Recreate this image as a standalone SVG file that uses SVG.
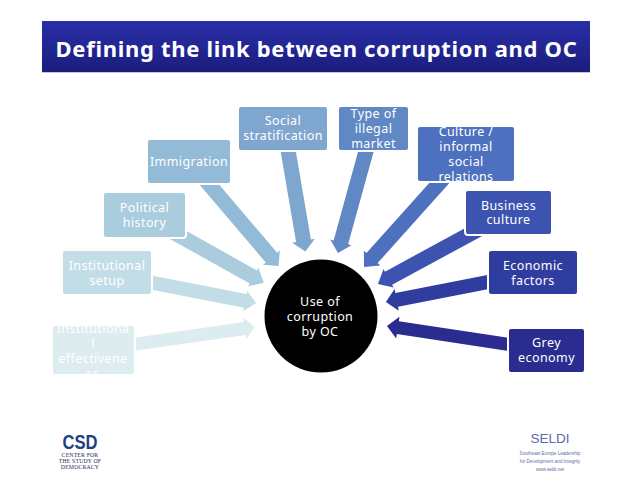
<svg xmlns="http://www.w3.org/2000/svg" width="638" height="479" viewBox="0 0 638 479">
<style>
.t{font-family:"Noto Sans","DejaVu Sans",sans-serif;font-size:12.5px;letter-spacing:.42px;fill:#fff;text-anchor:middle}
.b{stroke:#fff;stroke-width:2}
.serif{font-family:"Liberation Serif",serif;font-size:5.800px;letter-spacing:.15px;fill:#1f2a55;text-anchor:middle}
.seldi{font-family:"Liberation Sans",sans-serif;font-size:4.600px;fill:#5f6ea8;text-anchor:middle}
</style>
<defs>
<linearGradient id="bar" x1="0" y1="0" x2="0" y2="1"><stop offset="0" stop-color="#2b2fa8"/><stop offset="1" stop-color="#1a1d7c"/></linearGradient>
</defs>
<rect width="638" height="479" fill="#fff"/>
<g id="title">
<rect x="42" y="22" width="548" height="51" fill="#c2c4d8"/>
<rect x="42" y="21" width="548" height="51" fill="url(#bar)"/>
<text x="316.500" y="57" font-family="'Noto Sans','DejaVu Sans',sans-serif" font-size="22" font-weight="700" letter-spacing=".7" fill="#fff" text-anchor="middle">Defining the link between corruption and OC</text>
</g>
<g id="connectors">
<polygon fill="#dcecef" transform="translate(136 344) rotate(-8.1)" points="-8,-6.5 110,-6.500 110,-10.500 120,0 110,10.500 110,6.500 -8,6.500"/>
<polygon fill="#c3dde6" transform="translate(153 283) rotate(11)" points="-8,-7 94,-7 94,-10.500 105,0 94,10.500 94,7 -8,7"/>
<polygon fill="#a9cddd" transform="translate(180 236) rotate(29.2)" points="-12,-7.500 84,-7.500 84,-10.500 96,0 84,10.500 84,7.500 -12,7.500"/>
<polygon fill="#93bad6" transform="translate(210.500 186) rotate(49.6)" points="-12,-7.500 94,-7.500 94,-11 105,0 94,11 94,7.500 -12,7.500"/>
<polygon fill="#7fa6cf" transform="translate(288.500 153) rotate(80.3)" points="-8,-7.500 89,-7.500 89,-11.500 100,0 89,11.500 89,7.500 -8,7.500"/>
<polygon fill="#5f88c5" transform="translate(365.500 153) rotate(105.4)" points="-8,-7.500 92.700,-7.500 92.700,-11 103.700,0 92.700,11 92.700,7.500 -8,7.500"/>
<polygon fill="#4d70bf" transform="translate(438.500 184) rotate(131.9)" points="-12,-7.500 99.500,-7.500 99.500,-11 111.500,0 99.500,11 99.500,7.500 -12,7.500"/>
<polygon fill="#3c54b0" transform="translate(470 234) rotate(151.5)" points="-14,-7.500 92.700,-7.500 92.700,-10.500 104.700,0 92.700,10.500 92.700,7.500 -14,7.500"/>
<polygon fill="#2f3d9f" transform="translate(486 282.500) rotate(169)" points="-8,-7 91,-7 91,-11 102,0 91,11 91,7 -8,7"/>
<polygon fill="#2a2d8f" transform="translate(506 344) rotate(188.6)" points="-8,-6.500 109.400,-6.500 109.400,-11 120.400,0 109.400,11 109.400,6.500 -8,6.500"/>
</g>
<g id="n-effectiveness"><rect class="b" x="52" y="325" width="83" height="50" rx="3" fill="#dcecef"/>
<text class="t" x="93" y="332.500">Institutiona</text><text class="t" x="93" y="347.500">l</text><text class="t" x="93" y="362.500">effectivene</text><text class="t" x="93" y="377.500">ss</text></g>
<g id="n-setup"><rect class="b" x="62" y="250" width="90" height="45" rx="3" fill="#c3dde6"/>
<text class="t" x="107" y="269.500">Institutional</text><text class="t" x="107" y="284.500">setup</text></g>
<g id="n-political"><rect class="b" x="103" y="192" width="83" height="46" rx="3" fill="#a9cddd"/>
<text class="t" x="144.500" y="211.500">Political</text><text class="t" x="144.500" y="226.500">history</text></g>
<g id="n-immigration"><rect class="b" x="147" y="139" width="84" height="45" rx="3" fill="#93bad6"/>
<text class="t" x="189" y="165.500">Immigration</text></g>
<g id="n-social"><rect class="b" x="238" y="106" width="90" height="45" rx="3" fill="#7fa6cf"/>
<text class="t" x="283" y="125">Social</text><text class="t" x="283" y="139.500">stratification</text></g>
<g id="n-type"><rect class="b" x="338" y="106" width="71" height="45" rx="3" fill="#5f88c5"/>
<text class="t" x="373.500" y="118">Type of</text><text class="t" x="373.500" y="133">illegal</text><text class="t" x="373.500" y="147.500">market</text></g>
<g id="n-culture"><rect class="b" x="417" y="126" width="98" height="56" rx="3" fill="#4d70bf"/>
<text class="t" x="466" y="135.500">Culture /</text><text class="t" x="466" y="150.500">informal</text><text class="t" x="466" y="165.500">social</text><text class="t" x="466" y="180.500">relations</text></g>
<g id="n-business"><rect class="b" x="465" y="190" width="87" height="45" rx="3" fill="#3c54b0"/>
<text class="t" x="508.500" y="209.500">Business</text><text class="t" x="508.500" y="223.500">culture</text></g>
<g id="n-economic"><rect class="b" x="488" y="250" width="90" height="45" rx="3" fill="#2f3d9f"/>
<text class="t" x="533" y="269.500">Economic</text><text class="t" x="533" y="284.500">factors</text></g>
<g id="n-grey"><rect class="b" x="508" y="328" width="77" height="45" rx="3" fill="#2a2d8f"/>
<text class="t" x="546.500" y="346.500">Grey</text><text class="t" x="546.500" y="361.500">economy</text></g>
<g id="n-center"><circle cx="321" cy="316" r="56.500" fill="#000"/>
<text class="t" x="320" y="305.500">Use of</text><text class="t" x="320" y="321">corruption</text><text class="t" x="320" y="335.500">by OC</text></g>
<g id="logo-csd">
<text x="80" y="449" font-family="'Liberation Sans',sans-serif" font-size="21" font-weight="700" fill="#1f3f7f" text-anchor="middle" textLength="35" lengthAdjust="spacingAndGlyphs">CSD</text>
<text class="serif" x="80" y="456.500">CENTER FOR</text><text class="serif" x="80" y="462.500">THE STUDY OF</text><text class="serif" x="80" y="468.500">DEMOCRACY</text>
</g>
<g id="logo-seldi">
<text x="550" y="443" font-family="'Liberation Sans',sans-serif" font-size="13.500" fill="#5a6ba5" text-anchor="middle">SELDI</text>
<text class="seldi" x="550" y="454.500">Southeast Europe Leadership</text><text class="seldi" x="550" y="462.500">for Development and Integrity</text><text class="seldi" x="550" y="470.500">www.seldi.net</text>
</g>
</svg>
